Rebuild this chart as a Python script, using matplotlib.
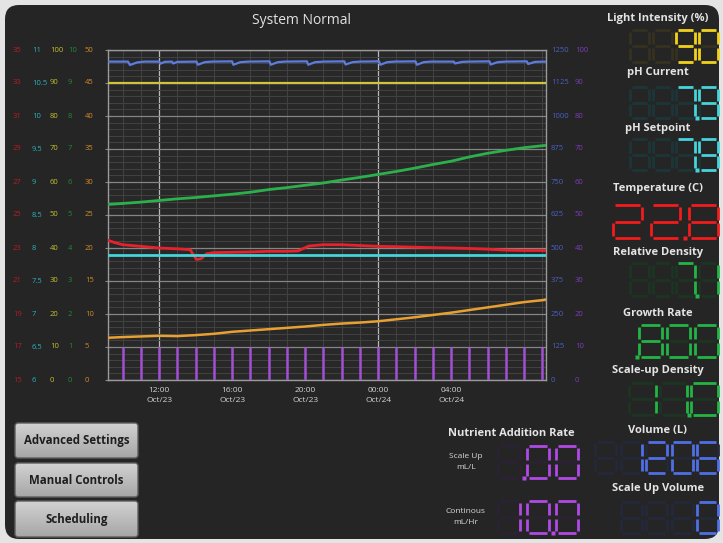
import numpy as np
import matplotlib
matplotlib.use('Agg')
import matplotlib.pyplot as plt
from matplotlib.patches import FancyBboxPatch
from matplotlib.colors import LinearSegmentedColormap
from matplotlib.transforms import blended_transform_factory

plt.rcParams['font.family'] = ['Open Sans', 'DejaVu Sans']

W, H = 723, 543

# ---- trend data (x in hours from Oct/23 00:00) ----
hours = [9.2, 10, 11, 12, 13, 14, 15, 16, 17, 18, 19, 20, 21, 22, 23, 24,
         25, 26, 27, 28, 29, 30, 31, 32, 33, 33.2]
density_vals = [5.32, 5.35, 5.39, 5.44, 5.49, 5.53, 5.58, 5.63, 5.69, 5.77,
                5.83, 5.90, 5.97, 6.06, 6.14, 6.23, 6.32, 6.42, 6.53, 6.63,
                6.76, 6.87, 6.96, 7.04, 7.10, 7.11]
orange_vals = [6.4, 6.5, 6.6, 6.7, 6.65, 6.8, 7.0, 7.3, 7.5, 7.7, 7.9, 8.1,
               8.35, 8.55, 8.7, 8.9, 9.2, 9.5, 9.85, 10.2, 10.6, 11.0, 11.4,
               11.8, 12.1, 12.2]

temp_hours = [9.2, 9.5, 10, 11, 12, 13, 13.7, 14.05, 14.3, 14.6, 15, 16, 17,
              18, 19, 19.6, 20.2, 21, 22, 23, 24, 25, 26, 27, 28, 29, 30, 31,
              32, 33.2]
temp_vals = [23.47, 23.35, 23.2, 23.1, 23.0, 22.95, 22.9, 22.3, 22.35, 22.65,
             22.72, 22.74, 22.76, 22.8, 22.8, 22.82, 23.12, 23.2, 23.2, 23.15,
             23.1, 23.08, 23.05, 23.02, 23.0, 22.97, 22.93, 22.87, 22.85, 22.85]

volume_hours = [9.2, 10.3, 10.4, 10.8, 11.2, 12.0, 12.07, 12.3, 12.7, 12.77,
                13.0, 14.05, 14.12, 14.5, 14.9, 16.0, 16.07, 16.45, 16.9,
                18.05, 18.12, 18.5, 18.9, 20.1, 20.17, 20.55, 21.0, 22.15,
                22.22, 22.6, 23.0, 24.05, 24.12, 24.5, 24.9, 26.05, 26.12,
                26.5, 26.9, 28.15, 28.22, 28.6, 29.0, 30.1, 30.17, 30.55,
                31.0, 32.15, 32.22, 32.6, 33.2]
volume_vals = [1206, 1206, 1193, 1203, 1206, 1206, 1198, 1205, 1206, 1199,
               1205, 1206, 1194, 1204, 1206, 1207, 1194, 1204, 1206,
               1207, 1194, 1204, 1206, 1207, 1194, 1204, 1206, 1207,
               1195, 1204, 1206, 1207, 1194, 1204, 1206, 1207, 1194,
               1204, 1206, 1206, 1199, 1205, 1206, 1207, 1195, 1204,
               1206, 1207, 1197, 1205, 1206]

flat_hours = [9.2, 33.2]
light_vals = [90, 90]
ph_vals = [7.9, 7.9]

pulse_hours = [10, 11, 12, 13, 14, 15, 16, 17, 18, 19, 20, 21, 22, 23, 24,
               25, 26, 27, 28, 29, 30, 31, 32, 33]
pulse_vals = [10.0] * len(pulse_hours)

# ---- axis scales ----
red_ticks = [15, 17, 19, 21, 23, 25, 27, 29, 31, 33, 35]
ph_ticks = [6, 6.5, 7, 7.5, 8, 8.5, 9, 9.5, 10, 10.5, 11]
light_ticks = [0, 10, 20, 30, 40, 50, 60, 70, 80, 90, 100]
dens_ticks = [0, 1, 2, 3, 4, 5, 6, 7, 8, 9, 10]
orange_ticks = [0, 5, 10, 15, 20, 25, 30, 35, 40, 45, 50]
vol_ticks = [0, 125, 250, 375, 500, 625, 750, 875, 1000, 1125, 1250]
purple_ticks = [0, 10, 20, 30, 40, 50, 60, 70, 80, 90, 100]

x_ticks = [12, 16, 20, 24, 28]
x_labels = ['12:00\nOct/23', '16:00\nOct/23', '20:00\nOct/23',
            '00:00\nOct/24', '04:00\nOct/24']

# ---- right-hand readouts ----
readout_labels = ['Light Intensity (%)', 'pH Current', 'pH Setpoint',
                  'Temperature (C)', 'Relative Density', 'Growth Rate',
                  'Scale-up Density', 'Volume (L)', 'Scale Up Volume']
readout_values = ['90', '7.9', '7.9', '22.8', '7.1', '.800', '11.0', '1206', '0']
button_labels = ['Advanced Settings', 'Manual Controls', 'Scheduling']
nutrient_labels = ['Scale Up\nmL/L', 'Continous\nmL/Hr']
nutrient_values = ['.00', '10.0']

C_RED, C_CYAN, C_YEL = '#e8222c', '#45d3dc', '#cfc43c'
C_GRN, C_ORG, C_BLUE, C_PUR = '#2bb04c', '#e8a032', '#5b7ce0', '#a24fd6'

fig = plt.figure(figsize=(W / 100, H / 100), dpi=100)
fig.patch.set_facecolor('#e4e4e4')

bg = fig.add_axes([0, 0, 1, 1], zorder=0)
bg.axis('off')
bg.add_patch(FancyBboxPatch((5, 5), 714, 534, boxstyle='round,pad=0,rounding_size=14',
                            fc='#252525', ec='none'))

# ---- chart ----
x0, x1, y0, y1 = 108, 546, 50, 380
ax = fig.add_axes([x0 / W, (H - y1) / H, (x1 - x0) / W, (y1 - y0) / H], zorder=1)
ax.set_facecolor('#282828')
ax.set_xlim(9.2, 33.2)
ax.set_ylim(0, 50)
ax.set_yticks(orange_ticks)
ax.set_yticks(np.arange(0, 51, 1), minor=True)
ax.set_xticks(x_ticks, x_labels)
ax.set_xticks(pulse_hours, minor=True)
ax.grid(which='minor', color='#424242', lw=0.7)
ax.grid(which='major', axis='y', color='#858585', lw=0.9)
for h in (12, 24):
    ax.axvline(h, color='#b8b8b8', lw=0.9, zorder=1)
ax.tick_params(axis='y', which='major', direction='inout', length=5, color='#888888',
               labelleft=False, right=True)
ax.tick_params(axis='y', which='minor', length=0)
ax.tick_params(axis='x', which='both', length=0, labelsize=6, colors='#d2d2d2', pad=5)
for lab in ax.get_xticklabels():
    lab.set_linespacing(1.6)
for s in ax.spines.values():
    s.set_color('#9a9a9a')
    s.set_linewidth(1)


def twin(lo, hi):
    t = ax.twinx()
    t.set_zorder(2)
    t.set_ylim(lo, hi)
    t.axis('off')
    return t


ax_red = twin(15, 35)
ax_ph = twin(6, 11)
ax_light = twin(0, 100)
ax_dens = twin(0, 10)
ax_vol = twin(0, 1250)
ax_pur = twin(0, 100)

ax_pur.vlines(pulse_hours, 0, pulse_vals, color=C_PUR, lw=1.8)
ax.plot(hours, orange_vals, color=C_ORG, lw=1.8, zorder=3)
ax_ph.plot(flat_hours, ph_vals, color=C_CYAN, lw=2)
ax_red.plot(temp_hours, temp_vals, color=C_RED, lw=2)
ax_dens.plot(hours, density_vals, color=C_GRN, lw=2)
ax_light.plot(flat_hours, light_vals, color=C_YEL, lw=1.6)
ax_vol.plot(volume_hours, volume_vals, color=C_BLUE, lw=1.6)

# coloured scale columns
cols = [(13, ax_red, red_ticks, '#b81c22'), (32, ax_ph, ph_ticks, '#2ab2ba'),
        (50, ax_light, light_ticks, '#c4c02a'), (68, ax_dens, dens_ticks, '#1f8a34'),
        (85, ax, orange_ticks, '#d08a28'), (551, ax_vol, vol_ticks, '#4a60c4'),
        (575, ax_pur, purple_ticks, '#7c3cbc')]
for px, a, ticks, c in cols:
    tr = blended_transform_factory(fig.transFigure, a.transData)
    for v in ticks:
        fig.text(px / W, v, f'{v:g}', transform=tr, color=c, fontsize=5.5,
                 ha='left', va='center')

bg.text(301, 20, 'System Normal', color='#e2e2e2', fontsize=10, ha='center', va='center')

# ---- seven segment readouts ----
SEGS = {'0': 'abcdef', '1': 'bc', '2': 'abged', '3': 'abgcd', '4': 'fgbc',
        '5': 'afgcd', '6': 'afgedc', '7': 'abc', '8': 'abcdefg', '9': 'abcdfg', ' ': ''}


def seven_seg(text, right, top, w, h, pitch, ncell, color, ghost, lw=2.0):
    cells = []
    pending = False
    for ch in text:
        if ch == '.':
            pending = True
        else:
            cells.append((ch, pending))
            pending = False
    cells = [(' ', False)] * (ncell - len(cells)) + cells
    left = right - w - pitch * (ncell - 1)
    g = 1.6
    for i, (ch, dot) in enumerate(cells):
        x = left + i * pitch
        m = top + h / 2
        segs = {'a': ((x + g, x + w - g), (top, top)),
                'b': ((x + w, x + w), (top + g, m - g)),
                'c': ((x + w, x + w), (m + g, top + h - g)),
                'd': ((x + g, x + w - g), (top + h, top + h)),
                'e': ((x, x), (m + g, top + h - g)),
                'f': ((x, x), (top + g, m - g)),
                'g': ((x + g, x + w - g), (m, m))}
        for k, (xs, ys) in segs.items():
            lit = k in SEGS[ch]
            bg.plot(xs, ys, color=color if lit else ghost, lw=lw,
                    solid_capstyle='butt', zorder=3 if lit else 2)
        if dot:
            bg.plot([x - (pitch - w) / 2], [top + h - 0.5], marker='s', ms=2.4,
                    color=color, mec='none', zorder=3)


label_y = [19, 73, 128, 188, 253, 314, 371, 430, 489]
for lab, yy in zip(readout_labels, label_y):
    bg.text(658, yy, lab, color='#e4e4e4', fontsize=8, fontweight='bold',
            ha='center', va='center')

disp = [  # top, w, h, pitch, ncell, colour, ghost
    (30, 19, 32, 23, 4, '#f2d21a', '#353220'),
    (87, 19, 31, 23, 4, C_CYAN, '#1c3638'),
    (139, 19, 31, 23, 4, C_CYAN, '#1c3638'),
    (205, 29, 33, 38, 3, '#f21c1c', '#2c2222'),
    (263, 19, 33, 23, 4, '#22b445', '#1b3522'),
    (325, 23, 32, 28, 3, '#22b445', '#1b3522'),
    (383, 27, 32, 31, 3, '#22b445', '#1b3522'),
    (442, 21, 31, 25.5, 5, '#4f6fe6', '#23283a'),
    (502, 21, 31, 25.5, 4, '#4f6fe6', '#23283a'),
]
for val, (top, w, h, p, n, c, gh) in zip(readout_values, disp):
    seven_seg(val, 718, top, w, h, p, n, c, gh)

# ---- nutrient addition ----
bg.text(511, 433, 'Nutrient Addition Rate', color='#e4e4e4', fontsize=8,
        fontweight='bold', ha='center', va='center')
for lab, val, top in zip(nutrient_labels, nutrient_values, [446, 501]):
    bg.text(466, top + 16, lab, color='#d8d8d8', fontsize=6, ha='center',
            va='center', linespacing=1.9)
    seven_seg(val, 578, top, 22, 32, 29, 3, '#b04ae6', '#2b2234')

# ---- buttons ----
btn_cmap = LinearSegmentedColormap.from_list('btn', ['#d2d2d2', '#a6a6a6'])
grad = np.linspace(0, 1, 64).reshape(-1, 1)
for lab, (t, b) in zip(button_labels, [(423, 458), (463, 497), (501, 537)]):
    box = FancyBboxPatch((15, t), 123, b - t, boxstyle='round,pad=0,rounding_size=3',
                         fc='none', ec='#5e5e5e', lw=1, zorder=4)
    bg.add_patch(box)
    im = bg.imshow(grad, cmap=btn_cmap, extent=(15, 138, b, t), aspect='auto', zorder=3)
    im.set_clip_path(box)
    bg.text(76.5, (t + b) / 2, lab, color='#1e1e1e', fontsize=8.3,
            fontweight='bold', ha='center', va='center', zorder=5)

bg.set_xlim(0, W)
bg.set_ylim(H, 0)

fig.savefig('out.png', dpi=100, facecolor=fig.get_facecolor())
